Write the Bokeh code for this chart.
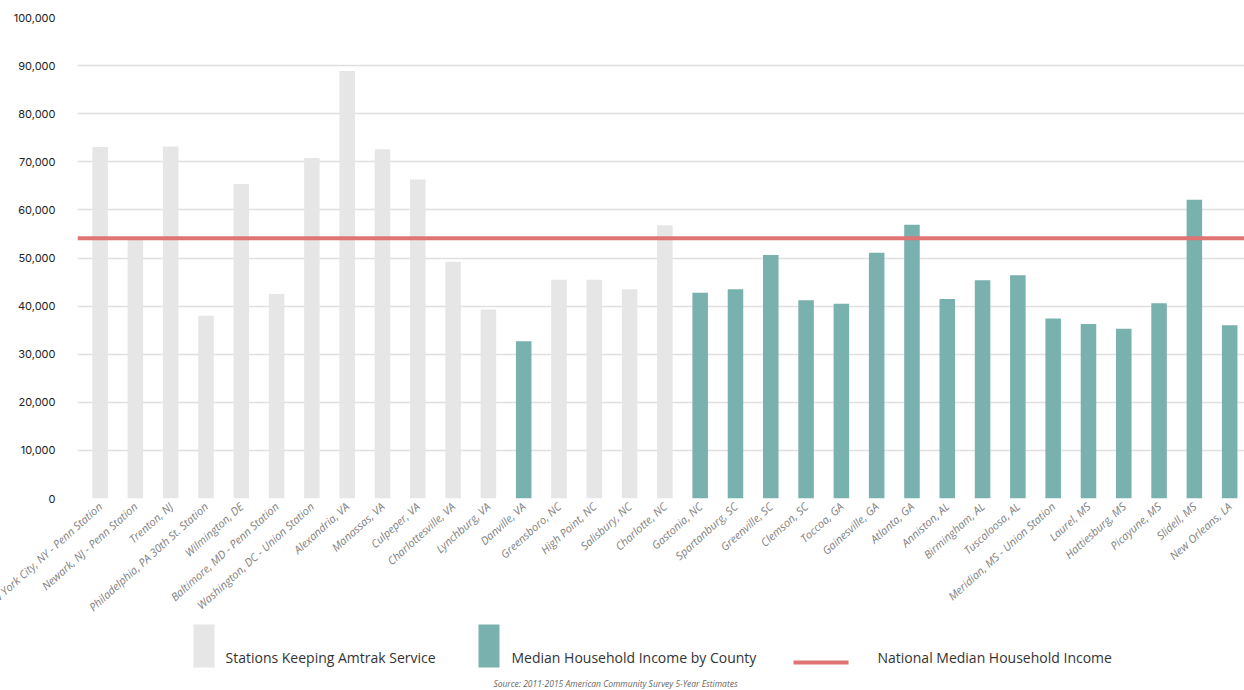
import math
from bokeh.plotting import figure
from bokeh.models import Range1d, FixedTicker, NumeralTickFormatter, ColumnDataSource, Span
from bokeh.layouts import column
from bokeh.embed import file_html
from bokeh.resources import INLINE
from bokeh.core.properties import value

# ---------------- data ----------------
stations = [
    "New York City, NY - Penn Station", "Newark, NJ - Penn Station", "Trenton, NJ",
    "Philadelphia, PA 30th St. Station", "Wilmington, DE", "Baltimore, MD - Penn Station",
    "Washington, DC - Union Station", "Alexandria, VA", "Manassas, VA", "Culpeper, VA",
    "Charlottesville, VA", "Lynchburg, VA", "Danville, VA", "Greensboro, NC",
    "High Point, NC", "Salisbury, NC", "Charlotte, NC", "Gastonia, NC", "Spartanburg, SC",
    "Greenville, SC", "Clemson, SC", "Toccoa, GA", "Gainesville, GA", "Atlanta, GA",
    "Anniston, AL", "Birmingham, AL", "Tuscaloosa, AL", "Meridian, MS - Union Station",
    "Laurel, MS", "Hattiesburg, MS", "Picayune, MS", "Slidell, MS", "New Orleans, LA",
]
median_income = [
    73100, 54300, 73200, 38000, 65400, 42500, 70800, 88900, 72600, 66300,
    49200, 39300, 32700, 45500, 45500, 43500, 56800, 42800, 43500, 50600,
    41200, 40500, 51100, 56900, 41500, 45400, 46400, 37400, 36300, 35300,
    40600, 62100, 36000,
]
keeps_amtrak = [
    True, True, True, True, True, True, True, True, True, True,
    True, True, False, True, True, True, True, False, False, False,
    False, False, False, False, False, False, False, False, False, False,
    False, False, False,
]
national_median = 54100
y_ticks = [0, 10000, 20000, 30000, 40000, 50000, 60000, 70000, 80000, 90000, 100000]
legend_labels = [
    "Stations Keeping Amtrak Service",
    "Median Household Income by County",
    "National Median Household Income",
]
source_note = "Source: 2011-2015 American Community Survey 5-Year Estimates"

# ---------------- styles ----------------
GREY = "#e6e6e6"
TEAL = "#78b1ae"
RED = "#e07474"
GRID = "#e0e0e0"
LEFT = 77
WIDTH = 1244
OFF = 40   # canvas extends past the window's left edge, as in the reference

xs = list(range(len(stations)))
colors = [GREY if k else TEAL for k in keeps_amtrak]
src = ColumnDataSource(dict(x=xs, top=median_income, color=colors, name=stations))

p = figure(
    frame_width=WIDTH - LEFT, frame_height=481,
    x_range=Range1d(-0.64, len(stations) - 0.58),
    y_range=Range1d(0, 100000),
    output_backend="svg", toolbar_location=None,
    min_border_left=LEFT + OFF, min_border_right=0, min_border_top=17, min_border_bottom=122,
    outline_line_color=None, background_fill_color="white", border_fill_color="white",
)

p.vbar(x="x", top="top", width=0.44, fill_color="color", line_color=None, source=src)

p.add_layout(Span(location=national_median, dimension="width", line_color=RED,
                  line_width=4, line_alpha=1.0))

p.xgrid.grid_line_color = None
p.ygrid.ticker = FixedTicker(ticks=y_ticks)
p.ygrid.grid_line_color = GRID
p.ygrid.grid_line_width = 1.5

ya = p.yaxis[0]
ya.ticker = FixedTicker(ticks=y_ticks)
ya.formatter = NumeralTickFormatter(format="0,0")
ya.axis_line_color = None
ya.major_tick_line_color = None
ya.minor_tick_line_color = None
ya.major_tick_in = 0
ya.major_tick_out = 0
ya.minor_tick_out = 0
ya.major_label_standoff = 22
ya.major_label_text_font = "Inter"
ya.major_label_text_font_size = "11px"
ya.major_label_text_color = "#222222"

xa = p.xaxis[0]
xa.ticker = FixedTicker(ticks=xs)
xa.major_label_overrides = {i: s for i, s in zip(xs, stations)}
xa.major_label_orientation = math.radians(42)
xa.axis_line_color = None
xa.major_tick_line_color = None
xa.minor_tick_line_color = None
xa.major_tick_in = 0
xa.major_tick_out = 0
xa.minor_tick_out = 0
xa.major_label_standoff = 6
xa.major_label_text_font = "Open Sans"
xa.major_label_text_font_style = "italic"
xa.major_label_text_font_size = "11px"
xa.major_label_text_color = "#808080"

# ---------------- legend strip ----------------
lg = figure(
    frame_width=WIDTH - LEFT, frame_height=70,
    x_range=Range1d(LEFT, WIDTH), y_range=Range1d(70, 0),
    output_backend="svg", toolbar_location=None,
    min_border_left=LEFT + OFF, min_border_right=0, min_border_top=0, min_border_bottom=0,
    x_axis_type=None, y_axis_type=None, outline_line_color=None,
    background_fill_color="white", border_fill_color="white",
)
lg.quad(left=[193, 478], right=[214, 499], top=[2, 2], bottom=[45, 45],
        fill_color=[GREY, TEAL], line_color=None)
lg.segment(x0=[793], x1=[848], y0=[40], y1=[40], line_color=RED, line_width=4)
lg.text(x=[225, 511, 877], y=[44, 44, 44], text=legend_labels,
        text_font=value("Open Sans"), text_font_size="14px", text_color="#333333",
        text_baseline="bottom", text_align="left")
lg.text(x=[615], y=[61], text=[source_note],
        text_font=value("Open Sans"), text_font_style="italic", text_font_size="8.5px",
        text_color="#666666", text_baseline="middle", text_align="center")

layout = column(p, lg, margin=(0, 0, 0, -OFF))
open("out.html", "w").write(file_html(layout, INLINE))
